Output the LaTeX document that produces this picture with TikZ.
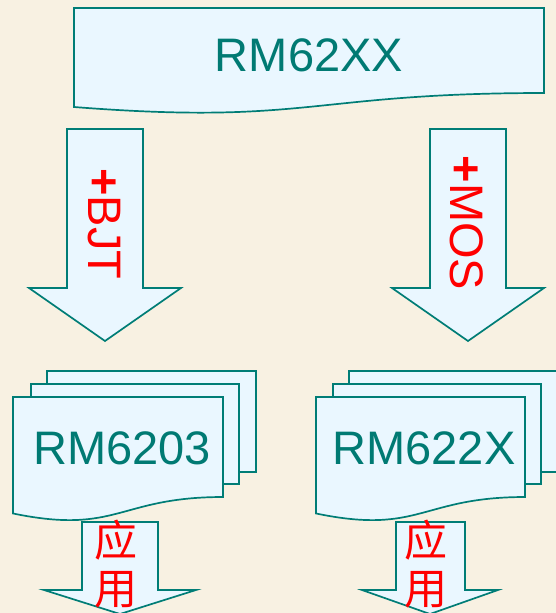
\documentclass[tikz,border=0pt]{standalone}
\usepackage{fontspec}
\setmainfont{Liberation Sans}
\newfontfamily\cjk{Noto Sans CJK SC}
\usepackage{xcolor}
\usepackage{tikz}
\usetikzlibrary{calc}

\definecolor{paper}{RGB}{248,241,226}
\definecolor{pagefill}{RGB}{234,247,255}
\definecolor{tealline}{RGB}{0,125,118}
\definecolor{tealtext}{RGB}{0,122,115}

\tikzset{
  docshape/.style={draw=tealline, fill=pagefill, line width=1.7pt, line join=miter},
  chiplabel/.style={text=tealtext, font=\fontsize{47}{50}\selectfont, inner sep=0pt, anchor=base},
  addlabel/.style={text=red, font=\fontsize{47}{50}\selectfont, inner sep=0pt, rotate=-90},
  uselabel/.style={text=red, font=\cjk\fontsize{43}{48}\selectfont, inner sep=0pt, align=center},
}

% document page: left, top, right, height
\newcommand{\docpage}[4]{%
  \draw[docshape] (#1,#2) -- (#3,#2) -- (#3,{#2+0.802*#4})
    .. controls ({(#1+#3)/2},{#2+0.802*#4}) and ({(#1+#3)/2},{#2+1.1075*#4}) .. (#1,{#2+0.934*#4}) -- cycle;}
% block arrow: shaft left, shaft right, top, shaft bottom, head left, head right, tip
\newcommand{\blockarrow}[7]{%
  \draw[docshape] (#1,#3) -- (#2,#3) -- (#2,#4) -- (#6,#4) -- ({(#5+#6)/2},#7) -- (#5,#4) -- (#1,#4) -- cycle;}

\begin{document}
\begin{tikzpicture}[x=1pt, y=-1pt]
  \fill[paper] (0,0) rectangle (556,613);
  \useasboundingbox (0,0) rectangle (556,613);
  \clip (0,0) rectangle (556,613);

  % top family
  \docpage{74}{8}{544}{106}
  \node[chiplabel] (rm62xx) at (309,71) {RM62XX};

  % big arrows
  \blockarrow{67}{143}{129}{288}{29}{181}{341}
  \blockarrow{430}{506}{129}{288}{392}{544}{341}
  \node[addlabel] (bjt) at (104,224) {{\bfseries +}BJT};
  \node[addlabel] (mos) at (467,223) {{\bfseries +}MOS};

  % left stack
  \draw[docshape] (47,371) rectangle (256,472);
  \draw[docshape] (31,384) rectangle (239,484);
  \docpage{13}{397}{223}{124.7}
  \node[chiplabel] (rm6203) at (122,464) {RM6203};

  % right stack
  \draw[docshape] (349,371) rectangle (560,472);
  \draw[docshape] (333,384) rectangle (541,484);
  \docpage{316}{397}{525}{124.7}
  \node[chiplabel] (rm622x) at (424,464) {RM622X};

  % small arrows
  \blockarrow{82}{158}{522}{590}{44}{196}{614}
  \blockarrow{396}{465}{522}{590}{362}{498}{614}
  \node[uselabel] (use1) at (116,564) {应\\用};
  \node[uselabel] (use2) at (426,564) {应\\用};
\end{tikzpicture}
\end{document}
